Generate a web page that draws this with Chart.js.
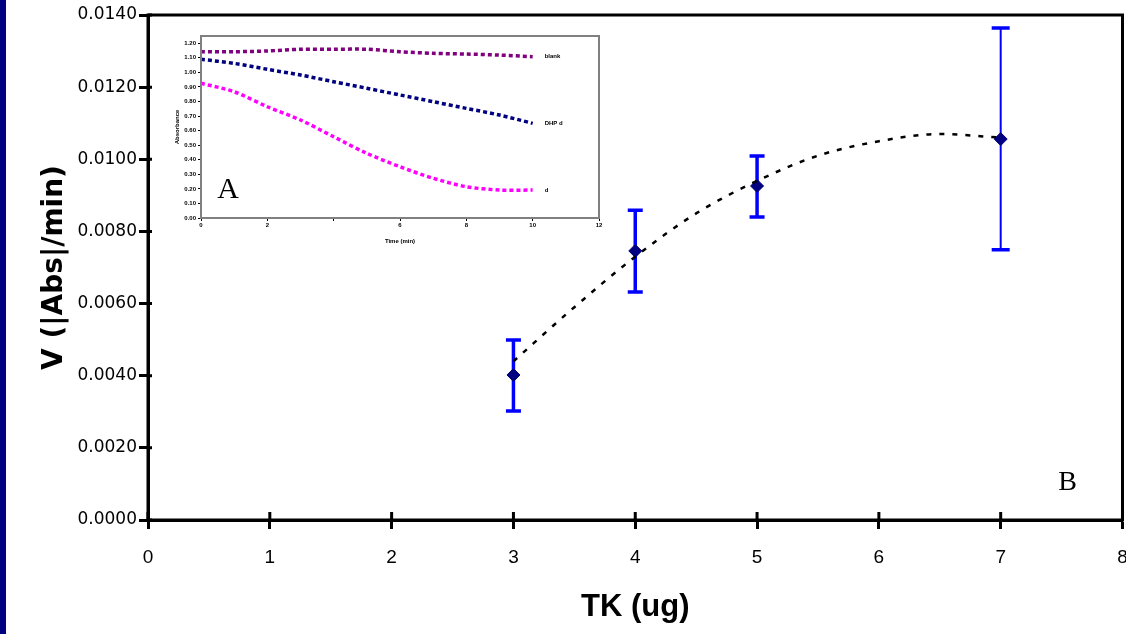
<!DOCTYPE html>
<html>
<head>
<meta charset="utf-8">
<script src="https://cdn.jsdelivr.net/npm/chart.js@4.4.0/dist/chart.umd.min.js"></script>
<style>
  html, body { margin: 0; padding: 0; background: #fff; }
  #wrap { position: relative; width: 1126px; height: 634px; overflow: hidden; background: #fff; }
  #band { position: absolute; left: 0; top: 0; width: 6px; height: 634px; background: #000080; }
  #main { position: absolute; left: 0; top: 0; }
  #inset { position: absolute; left: 160px; top: 28px; }
</style>
</head>
<body>
<div id="wrap">
  <canvas id="main" width="1130" height="634"></canvas>
  <canvas id="inset" width="450" height="228"></canvas>
  <div id="band"></div>
</div>
<script>
// main plot (B): velocity vs TK amount
const tkAmounts = [3, 4, 5, 7];
const velocity = [0.00402, 0.00746, 0.00926, 0.01056];
const errLow = [0.00302, 0.00632, 0.00840, 0.00749];
const errHigh = [0.00499, 0.00859, 0.01009, 0.01364];

// dashed fit curve
const trendX = [3, 3.5, 4, 4.5, 5, 5.5, 6, 6.5, 7];
const trendY = [0.0044, 0.0059, 0.0073, 0.0085, 0.0094, 0.0101, 0.0105, 0.0107, 0.0106];

// inset (A): absorbance vs time
const insetTime = [0, 1, 2, 3, 4, 5, 6, 7, 8, 9, 10];
const insetBlank = [1.142, 1.142, 1.147, 1.159, 1.159, 1.159, 1.142, 1.131, 1.126, 1.119, 1.108];
const insetDhp = [1.090, 1.062, 1.021, 0.982, 0.936, 0.891, 0.845, 0.799, 0.753, 0.707, 0.650];
const insetD = [0.925, 0.867, 0.764, 0.673, 0.558, 0.444, 0.352, 0.273, 0.215, 0.192, 0.192];
const insetNames = ['blank', 'DHP d', 'd'];

const toPoints = (xs, ys) => xs.map((x, i) => ({ x: x, y: ys[i] }));

const errorBars = {
  id: 'errorBars',
  beforeDatasetsDraw(chart) {
    const { ctx, scales: { x, y } } = chart;
    ctx.save();
    ctx.strokeStyle = '#0000ff';
    tkAmounts.forEach((t, i) => {
      const px = x.getPixelForValue(t);
      const top = y.getPixelForValue(errHigh[i]);
      const bot = y.getPixelForValue(errLow[i]);
      const last = i === tkAmounts.length - 1;
      const cap = last ? 9 : 7.5;
      ctx.lineWidth = last ? 2 : 3.5;
      ctx.beginPath();
      ctx.moveTo(px, top);
      ctx.lineTo(px, bot);
      ctx.stroke();
      ctx.lineWidth = 3.5;
      ctx.beginPath();
      ctx.moveTo(px - cap, top); ctx.lineTo(px + cap, top);
      ctx.moveTo(px - cap, bot); ctx.lineTo(px + cap, bot);
      ctx.stroke();
    });
    ctx.restore();
  }
};

const frame = {
  id: 'frame',
  afterDraw(chart) {
    const { ctx, chartArea: a, scales: { x, y } } = chart;
    ctx.save();
    ctx.strokeStyle = '#000';
    ctx.lineWidth = 3;
    ctx.strokeRect(a.left, a.top, a.right - a.left, a.bottom - a.top);
    // tick marks also poke inside the plot
    ctx.beginPath();
    x.ticks.forEach(t => {
      const px = x.getPixelForValue(t.value);
      ctx.moveTo(px, a.bottom);
      ctx.lineTo(px, a.bottom - 8);
    });
    y.ticks.forEach(t => {
      const py = y.getPixelForValue(t.value);
      ctx.moveTo(a.left, py);
      ctx.lineTo(a.left + 4, py);
    });
    ctx.stroke();
    ctx.fillStyle = '#000';
    ctx.font = '28px "Liberation Serif"';
    ctx.textAlign = 'center';
    ctx.textBaseline = 'middle';
    ctx.fillText('B', a.right - 55, a.bottom - 37);
    ctx.restore();
  }
};

new Chart(document.getElementById('main'), {
  type: 'scatter',
  data: {
    datasets: [
      {
        label: 'fit',
        data: toPoints(trendX, trendY),
        showLine: true,
        borderColor: '#000',
        borderWidth: 2.5,
        borderDash: [5, 8],
        cubicInterpolationMode: 'monotone',
        pointRadius: 0,
        fill: false
      },
      {
        label: 'V',
        data: toPoints(tkAmounts, velocity),
        showLine: false,
        pointStyle: 'rectRot',
        pointRadius: 6.5,
        backgroundColor: '#000080',
        borderColor: '#000080',
        borderWidth: 1
      }
    ]
  },
  options: {
    responsive: false,
    animation: false,
    events: [],
    layout: { padding: { top: 15, right: 3, left: 0, bottom: 0 } },
    plugins: { legend: { display: false }, tooltip: { enabled: false } },
    scales: {
      x: {
        type: 'linear',
        min: 0,
        max: 8,
        ticks: {
          stepSize: 1,
          color: '#000',
          font: { family: '"Liberation Sans", Arial', size: 19 },
          padding: 17,
          maxRotation: 0
        },
        grid: { drawOnChartArea: false, tickLength: 9, tickWidth: 3, tickColor: '#000' },
        border: { color: '#000', width: 3 },
        title: {
          display: true,
          text: 'TK (ug)',
          color: '#000',
          font: { family: '"Liberation Sans", Arial', size: 31, weight: 'bold' },
          padding: { top: 0, bottom: 8 }
        },
        afterFit: s => { s.height = 114; s.paddingLeft = 0; s.paddingRight = 0; }
      },
      y: {
        min: 0,
        max: 0.014,
        ticks: {
          stepSize: 0.002,
          color: '#000',
          font: { family: '"DejaVu Sans"', size: 17 },
          padding: 2,
          callback: v => v.toFixed(4)
        },
        grid: { drawOnChartArea: false, tickLength: 9, tickWidth: 3, tickColor: '#000' },
        border: { color: '#000', width: 3 },
        title: {
          display: true,
          text: 'V (|Abs|/min)',
          color: '#000',
          font: { family: '"DejaVu Sans"', size: 28, weight: 'bold' },
          padding: { top: 38, bottom: 0 }
        },
        afterFit: s => { s.width = 148; }
      }
    }
  },
  plugins: [errorBars, frame]
});

const insetDecor = {
  id: 'insetDecor',
  afterDraw(chart) {
    const { ctx, chartArea: a } = chart;
    ctx.save();
    ctx.strokeStyle = '#808080';
    ctx.lineWidth = 2;
    ctx.strokeRect(a.left, a.top, a.right - a.left, a.bottom - a.top);
    ctx.fillStyle = '#000';
    ctx.font = 'bold 6px "Liberation Sans", Arial';
    ctx.textBaseline = 'middle';
    chart.data.datasets.forEach((ds, i) => {
      const pts = chart.getDatasetMeta(i).data;
      const p = pts[pts.length - 1];
      ctx.fillText(ds.label, p.x + 12, p.y);
    });
    ctx.font = '30px "Liberation Serif"';
    ctx.textAlign = 'center';
    ctx.fillText('A', a.left + 27, a.bottom - 28);
    ctx.restore();
  }
};

const insetLine = (name, values, color) => ({
  label: name,
  data: toPoints(insetTime, values),
  borderColor: color,
  borderWidth: 3.5,
  borderDash: [4, 3],
  pointRadius: 0,
  tension: 0.3,
  fill: false
});

new Chart(document.getElementById('inset'), {
  type: 'line',
  data: {
    datasets: [
      insetLine(insetNames[0], insetBlank, '#800080'),
      insetLine(insetNames[1], insetDhp, '#000080'),
      insetLine(insetNames[2], insetD, '#ff00ff')
    ]
  },
  options: {
    responsive: false,
    animation: false,
    events: [],
    layout: { padding: { top: 8, right: 11, left: 0, bottom: 0 } },
    plugins: { legend: { display: false }, tooltip: { enabled: false } },
    scales: {
      x: {
        type: 'linear',
        min: 0,
        max: 12,
        ticks: {
          stepSize: 2,
          color: '#000',
          font: { family: '"Liberation Sans", Arial', size: 6, weight: 'bold' },
          padding: 1,
          maxRotation: 0,
          callback: v => (v === 4 ? '' : v)
        },
        grid: { drawOnChartArea: false, tickLength: 3, tickColor: '#000' },
        border: { color: '#555', width: 2 },
        title: {
          display: true,
          text: 'Time (min)',
          color: '#000',
          font: { family: '"Liberation Sans", Arial', size: 6, weight: 'bold' },
          padding: { top: 0, bottom: 11 }
        },
        afterFit: s => { s.height = 38; s.paddingLeft = 0; s.paddingRight = 0; }
      },
      y: {
        min: 0,
        max: 1.25,
        ticks: {
          stepSize: 0.1,
          includeBounds: false,
          color: '#000',
          font: { family: '"Liberation Sans", Arial', size: 6, weight: 'bold' },
          padding: 2,
          callback: v => v.toFixed(2)
        },
        grid: { drawOnChartArea: false, tickLength: 3, tickColor: '#000' },
        border: { color: '#000', width: 1.5 },
        title: {
          display: true,
          text: 'Absorbance',
          color: '#000',
          font: { family: '"Liberation Sans", Arial', size: 6, weight: 'bold' },
          padding: { top: 14, bottom: 0 }
        },
        afterFit: s => { s.width = 41; }
      }
    }
  },
  plugins: [insetDecor]
});
</script>
</body>
</html>
